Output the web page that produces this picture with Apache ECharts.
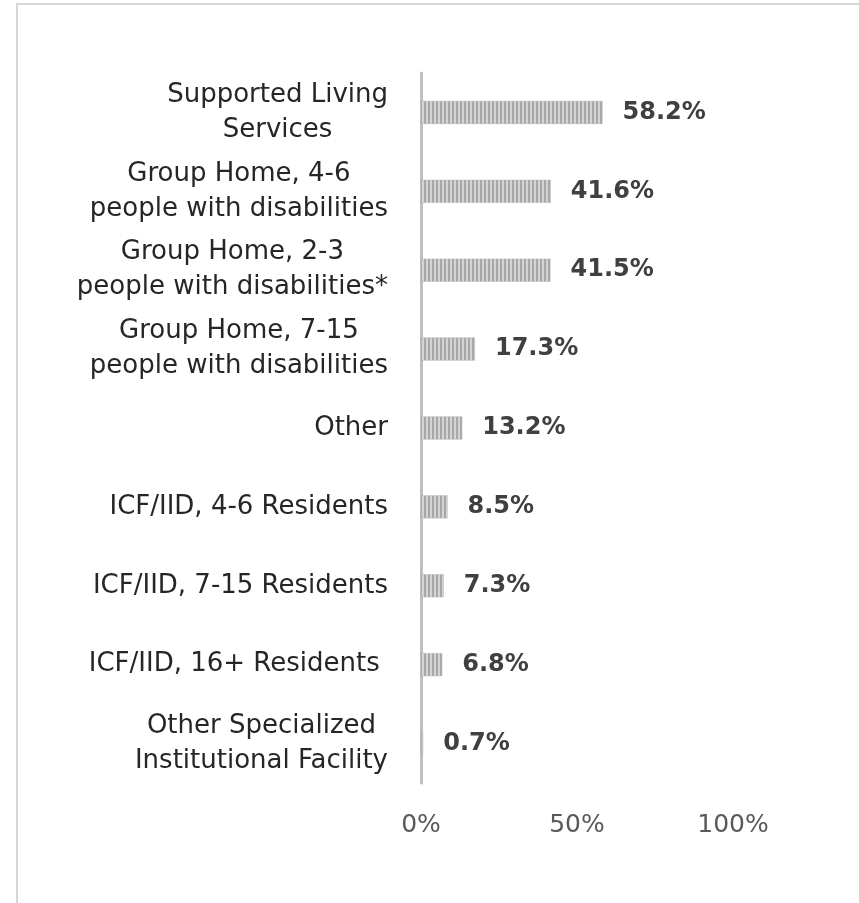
<!DOCTYPE html>
<html>
<head>
<meta charset="utf-8">
<script src="https://cdn.jsdelivr.net/npm/echarts@6/dist/echarts.min.js"></script>
<style>
  html, body { margin: 0; padding: 0; background: #fff; }
  #chart { width: 859px; height: 903px; }
</style>
</head>
<body>
<div id="chart"></div>
<script>
// categories, top to bottom
var categories = [
  'Supported Living\nServices',
  'Group Home, 4-6\npeople with disabilities',
  'Group Home, 2-3\npeople with disabilities*',
  'Group Home, 7-15\npeople with disabilities',
  'Other',
  'ICF/IID, 4-6 Residents',
  'ICF/IID, 7-15 Residents',
  'ICF/IID, 16+ Residents ',
  'Other Specialized\nInstitutional Facility'
];
var values = [58.2, 41.6, 41.5, 17.3, 13.2, 8.5, 7.3, 6.8, 0.7];
var xTicks = [0, 50, 100];

var FONT = '"DejaVu Sans", Verdana, sans-serif';

// vertical stripe fill like the excel pattern
var pat = document.createElement('canvas');
pat.width = 4;
pat.height = 4;
var pctx = pat.getContext('2d');
pctx.fillStyle = '#d4d4d4';
pctx.fillRect(0, 0, 4, 4);
pctx.fillStyle = '#a8a8a8';
pctx.fillRect(0, 0, 2, 4);

var chart = echarts.init(document.getElementById('chart'));
chart.setOption({
  animation: false,
  backgroundColor: '#fff',
  graphic: [{
    type: 'rect',
    shape: { x: 17, y: 4, width: 1000, height: 1000 },
    style: { fill: 'none', stroke: '#d6d6d6', lineWidth: 2 },
    silent: true
  }],
  grid: { left: 421, right: 126, top: 73, bottom: 120 },
  xAxis: {
    type: 'value',
    min: xTicks[0],
    max: xTicks[xTicks.length - 1],
    interval: 50,
    axisLine: { show: false },
    axisTick: { show: false },
    splitLine: { show: false },
    axisLabel: {
      margin: 30,
      color: '#595959',
      fontFamily: FONT,
      fontSize: 25,
      formatter: '{value}%'
    }
  },
  yAxis: {
    type: 'category',
    inverse: true,
    data: categories,
    axisLine: { show: true, lineStyle: { color: '#bfbfbf', width: 3 } },
    axisTick: { show: false },
    axisLabel: {
      margin: 33,
      color: '#262626',
      fontFamily: FONT,
      fontSize: 26,
      lineHeight: 35,
      formatter: function (v) {
        return v.split('\n').map(function (l) { return '{c|' + l + '}'; }).join('\n');
      },
      rich: {
        c: { align: 'center', fontFamily: FONT, fontSize: 26, lineHeight: 35, color: '#262626' }
      }
    }
  },
  series: [{
    type: 'bar',
    data: values,
    barWidth: 23,
    itemStyle: {
      color: { image: pat, repeat: 'repeat' },
      borderColor: '#b0b0b0',
      borderWidth: 0.5
    },
    label: {
      show: true,
      position: 'right',
      distance: 20,
      color: '#404040',
      fontFamily: FONT,
      fontWeight: 'bold',
      fontSize: 24,
      formatter: function (p) { return p.value.toFixed(1) + '%'; }
    }
  }]
});
</script>
</body>
</html>
